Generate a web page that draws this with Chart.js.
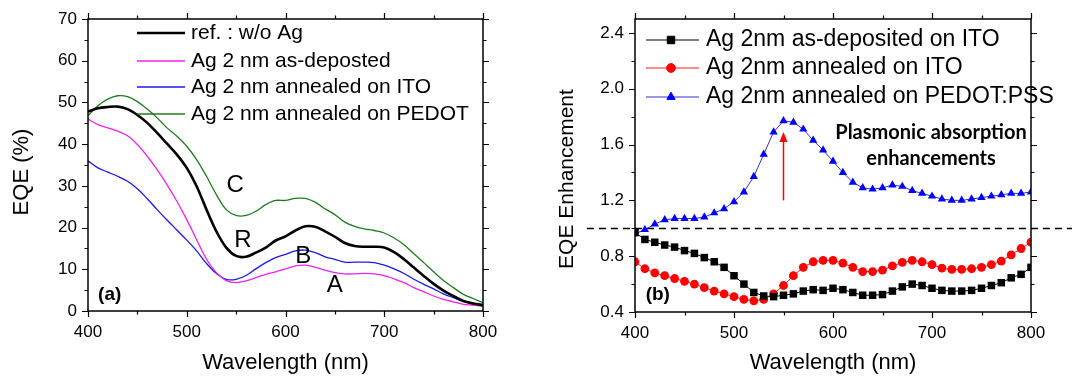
<!DOCTYPE html>
<html>
<head>
<meta charset="utf-8">
<script src="https://cdn.jsdelivr.net/npm/chart.js@4.4.0/dist/chart.umd.min.js"></script>
<style>
  html, body { margin: 0; padding: 0; background: #fff; }
  #wrap { position: relative; width: 1072px; height: 376px; overflow: hidden; }
  #wrap canvas { position: absolute; top: 0; }
</style>
</head>
<body>
<div id="wrap">
  <canvas id="chartA" width="540" height="376" style="left:0"></canvas>
  <canvas id="chartB" width="532" height="376" style="left:540px"></canvas>
</div>
<script>
// wavelength grid (nm)
var wavelength = [400, 410, 420, 430, 440, 450, 460, 470, 480, 490, 500, 510, 520, 530, 540, 550, 560, 570, 580, 590, 600,
  610, 620, 630, 640, 650, 660, 670, 680, 690, 700, 710, 720, 730, 740, 750, 760, 770, 780, 790, 800];

// panel (a): EQE (%)
var eqeRef = [47.8, 48.6, 48.9, 49.0, 48.4, 47.0, 45.1, 42.7, 40.1, 37.5, 34.3, 29.9, 24.3, 19.1, 15.2, 13.2, 13.0, 14.0, 15.2, 16.9, 17.9,
  19.3, 20.3, 20.2, 19.1, 17.8, 16.3, 15.6, 15.4, 15.4, 15.2, 14.1, 12.4, 10.4, 8.4, 6.5, 4.9, 3.6, 2.4, 1.8, 1.4];
var eqeAsDep = [46.0, 44.7, 43.9, 43.1, 42.0, 39.9, 37.1, 33.9, 30.3, 26.3, 21.9, 17.1, 12.4, 9.2, 7.3, 6.8, 7.2, 8.0, 8.8, 9.4, 10.1,
  10.8, 11.0, 10.5, 9.8, 9.2, 8.9, 8.9, 9.0, 8.9, 8.5, 7.7, 6.8, 5.6, 4.6, 3.6, 2.8, 2.2, 1.6, 1.4, 1.1];
var eqeAnnITO = [36.0, 34.3, 33.3, 32.3, 31.1, 29.3, 26.9, 24.3, 21.8, 19.4, 17.0, 14.4, 11.4, 9.0, 7.6, 7.6, 8.5, 10.1, 11.6, 12.8, 13.6,
  14.4, 14.6, 14.0, 13.0, 12.4, 11.7, 11.7, 11.7, 11.6, 11.0, 10.1, 9.0, 7.6, 6.4, 5.3, 4.1, 3.2, 2.4, 1.8, 1.5];
var eqeAnnPEDOT = [46.8, 49.2, 50.8, 51.6, 51.4, 50.2, 48.4, 46.3, 43.9, 41.9, 39.5, 36.3, 32.3, 27.9, 24.3, 22.9, 22.9, 23.9, 25.5, 26.5, 26.5,
  27.0, 27.0, 26.1, 24.5, 23.1, 21.3, 20.3, 19.7, 19.3, 18.7, 17.5, 15.9, 13.7, 11.6, 9.4, 7.3, 5.6, 4.0, 3.0, 2.0];

// panel (b): EQE enhancement
var enhAsDep = [0.97, 0.92, 0.90, 0.88, 0.865, 0.84, 0.82, 0.79, 0.76, 0.72, 0.66, 0.60, 0.54, 0.515, 0.51, 0.52, 0.53, 0.55, 0.56, 0.555, 0.57,
  0.56, 0.54, 0.52, 0.52, 0.525, 0.55, 0.58, 0.60, 0.59, 0.57, 0.555, 0.55, 0.55, 0.555, 0.57, 0.59, 0.61, 0.645, 0.67, 0.72];
var enhAnnITO = [0.76, 0.71, 0.68, 0.66, 0.64, 0.62, 0.60, 0.575, 0.55, 0.53, 0.51, 0.49, 0.48, 0.49, 0.53, 0.59, 0.66, 0.72, 0.76, 0.77, 0.77,
  0.75, 0.72, 0.69, 0.69, 0.70, 0.73, 0.755, 0.77, 0.76, 0.74, 0.715, 0.705, 0.705, 0.71, 0.72, 0.74, 0.765, 0.81, 0.855, 0.90];
var enhAnnPEDOT = [0.96, 0.99, 1.03, 1.06, 1.07, 1.07, 1.07, 1.08, 1.11, 1.14, 1.19, 1.26, 1.37, 1.53, 1.69, 1.77, 1.76, 1.71, 1.63, 1.56, 1.48,
  1.40, 1.33, 1.29, 1.28, 1.29, 1.31, 1.30, 1.27, 1.25, 1.23, 1.21, 1.20, 1.20, 1.21, 1.22, 1.23, 1.24, 1.25, 1.25, 1.26];

var labelsA = ["ref. : w/o Ag", "Ag 2 nm as-deposted", "Ag 2 nm annealed on ITO", "Ag 2 nm annealed on PEDOT"];
var labelsB = ["Ag 2nm as-deposited on ITO", "Ag 2nm annealed on ITO", "Ag 2nm annealed on PEDOT:PSS"];

var FONT = "'Liberation Sans', Arial, sans-serif";

function pts(ys) {
  return ys.map(function (v, i) { return { x: wavelength[i], y: v }; });
}

// box frame with outward major/minor ticks on all four sides
function drawFrame(chart, xMinorStep, yMinorStep) {
  var ctx = chart.ctx, a = chart.chartArea;
  var xs = chart.scales.x, ys = chart.scales.y;
  ctx.save();
  ctx.strokeStyle = "#000";
  ctx.lineWidth = 1.5;
  ctx.strokeRect(a.left, a.top, a.right - a.left, a.bottom - a.top);
  ctx.lineWidth = 1.2;
  ctx.beginPath();
  var v, px, len;
  for (v = xs.min; v <= xs.max + 1e-9; v += xMinorStep) {
    px = Math.round(xs.getPixelForValue(v)) + 0.5;
    len = Math.abs((v - xs.min) / (2 * xMinorStep) - Math.round((v - xs.min) / (2 * xMinorStep))) < 1e-6 ? 6 : 3.5;
    ctx.moveTo(px, a.bottom); ctx.lineTo(px, a.bottom + len);
    ctx.moveTo(px, a.top); ctx.lineTo(px, a.top - len);
  }
  var y0 = ys.options.ticks.stepSize;
  for (v = ys.min; v <= ys.max + 1e-9; v += yMinorStep) {
    px = Math.round(ys.getPixelForValue(v)) + 0.5;
    len = Math.abs((v - ys.min) / y0 - Math.round((v - ys.min) / y0)) < 1e-6 ? 6 : 3.5;
    ctx.moveTo(a.left, px); ctx.lineTo(a.left - len, px);
    ctx.moveTo(a.right, px); ctx.lineTo(a.right + len, px);
  }
  ctx.stroke();
  ctx.restore();
}

function yTitle(chart, text, cx, cy, size) {
  var ctx = chart.ctx;
  ctx.save();
  ctx.translate(cx, cy);
  ctx.rotate(-Math.PI / 2);
  ctx.fillStyle = "#000";
  ctx.font = size + "px " + FONT;
  ctx.textAlign = "center";
  ctx.textBaseline = "middle";
  ctx.fillText(text, 0, 0);
  ctx.restore();
}

function textAt(chart, text, xv, yv, font) {
  var ctx = chart.ctx;
  ctx.save();
  ctx.fillStyle = "#000";
  ctx.font = font;
  ctx.textAlign = "center";
  ctx.textBaseline = "middle";
  ctx.fillText(text, chart.scales.x.getPixelForValue(xv), chart.scales.y.getPixelForValue(yv));
  ctx.restore();
}

var panelA = {
  id: "panelA",
  afterDraw: function (chart) {
    var ctx = chart.ctx;
    drawFrame(chart, 50, 5);
    yTitle(chart, "EQE (%)", 22, 172, 22);
    // legend
    var rows = [33, 61, 87, 114];
    chart.data.datasets.forEach(function (ds, i) {
      ctx.save();
      ctx.strokeStyle = ds.borderColor;
      ctx.lineWidth = ds.borderWidth;
      ctx.beginPath();
      ctx.moveTo(137, rows[i]); ctx.lineTo(185, rows[i]);
      ctx.stroke();
      ctx.fillStyle = "#000";
      ctx.font = "21px " + FONT;
      ctx.textBaseline = "middle";
      ctx.fillText(ds.label, 191, rows[i]);
      ctx.restore();
    });
    var big = "24px " + FONT;
    textAt(chart, "C", 549, 30.2, big);
    textAt(chart, "R", 557, 17.0, big);
    textAt(chart, "B", 618, 13.2, big);
    textAt(chart, "A", 650, 6.2, big);
    textAt(chart, "(a)", 422, 3.8, "bold 19px " + FONT);
  }
};

new Chart(document.getElementById("chartA").getContext("2d"), {
  type: "line",
  data: {
    datasets: [
      { label: labelsA[0], data: pts(eqeRef), borderColor: "#000000", borderWidth: 2.6 },
      { label: labelsA[1], data: pts(eqeAsDep), borderColor: "#ee22ee", borderWidth: 1.3 },
      { label: labelsA[2], data: pts(eqeAnnITO), borderColor: "#1a1ae6", borderWidth: 1.3 },
      { label: labelsA[3], data: pts(eqeAnnPEDOT), borderColor: "#1f7a1f", borderWidth: 1.3 },
    ],
  },
  options: {
    responsive: false,
    animation: false,
    layout: { padding: { left: 0, top: 19, right: 57, bottom: 0 } },
    elements: { point: { radius: 0 }, line: { tension: 0.35, fill: false } },
    plugins: { legend: { display: false }, tooltip: { enabled: false } },
    scales: {
      x: {
        type: "linear", min: 400, max: 800,
        ticks: { stepSize: 100, color: "#000", padding: 5, maxRotation: 0, font: { family: FONT, size: 17 } },
        grid: { display: false, tickLength: 6 },
        border: { display: false },
        title: { display: true, text: "Wavelength (nm)", color: "#000", font: { family: FONT, size: 22 }, padding: { top: 0, bottom: 0 } },
        afterFit: function (s) { s.height = 65; },
      },
      y: {
        min: 0, max: 70,
        ticks: { stepSize: 10, color: "#000", padding: 5, font: { family: FONT, size: 17 } },
        grid: { display: false, tickLength: 6 },
        border: { display: false },
        afterFit: function (s) { s.width = 88; },
      },
    },
  },
  plugins: [panelA],
});

var panelB = {
  id: "panelB",
  beforeDatasetsDraw: function (chart) {
    // reference line at enhancement = 1
    var ctx = chart.ctx, py = Math.round(chart.scales.y.getPixelForValue(1.0)) + 0.5;
    ctx.save();
    ctx.strokeStyle = "#000";
    ctx.lineWidth = 1.3;
    ctx.setLineDash([7, 5]);
    ctx.beginPath();
    ctx.moveTo(47, py); ctx.lineTo(532, py);
    ctx.stroke();
    ctx.restore();
  },
  afterDraw: function (chart) {
    var ctx = chart.ctx, xs = chart.scales.x, ys = chart.scales.y;
    drawFrame(chart, 50, 0.2);
    yTitle(chart, "EQE Enhancement", 27, 179, 21);
    // legend
    var rows = [40, 68, 97];
    chart.data.datasets.forEach(function (ds, i) {
      ctx.save();
      ctx.strokeStyle = ds.borderColor;
      ctx.lineWidth = 1;
      ctx.beginPath();
      ctx.moveTo(106, rows[i]); ctx.lineTo(159, rows[i]);
      ctx.stroke();
      ctx.fillStyle = ds.pointBackgroundColor;
      ctx.strokeStyle = ds.pointBackgroundColor;
      Chart.helpers.drawPoint(ctx, { pointStyle: ds.pointStyle, radius: ds.pointRadius, borderWidth: 1, rotation: 0 }, 131, rows[i]);
      ctx.fillStyle = "#000";
      ctx.font = "23px " + FONT;
      ctx.textBaseline = "middle";
      ctx.fillText(ds.label, 166, rows[i]);
      ctx.restore();
    });
    // arrow
    var ax = xs.getPixelForValue(550), y1 = ys.getPixelForValue(1.2), y2 = ys.getPixelForValue(1.69);
    ctx.save();
    ctx.strokeStyle = "#ff0000";
    ctx.fillStyle = "#ff0000";
    ctx.lineWidth = 1.5;
    ctx.beginPath();
    ctx.moveTo(ax, y1); ctx.lineTo(ax, y2 + 8);
    ctx.stroke();
    ctx.beginPath();
    ctx.moveTo(ax, y2); ctx.lineTo(ax - 4, y2 + 10); ctx.lineTo(ax + 4, y2 + 10);
    ctx.closePath();
    ctx.fill();
    ctx.restore();
    textAt(chart, "Plasmonic absorption", 699, 1.685, "bold 20px Lato, 'Noto Sans', sans-serif");
    textAt(chart, "enhancements", 699, 1.50, "bold 20px Lato, 'Noto Sans', sans-serif");
    textAt(chart, "(b)", 423, 0.52, "bold 19px " + FONT);
  }
};

new Chart(document.getElementById("chartB").getContext("2d"), {
  type: "line",
  data: {
    datasets: [
      { label: labelsB[0], data: pts(enhAsDep), borderColor: "#000000", borderWidth: 1,
        pointStyle: "rect", pointRadius: 5.3, pointBackgroundColor: "#000000", pointBorderColor: "#000000", pointBorderWidth: 0 },
      { label: labelsB[1], data: pts(enhAnnITO), borderColor: "#ff1a1a", borderWidth: 1,
        pointStyle: "circle", pointRadius: 4.4, pointBackgroundColor: "#ff0000", pointBorderColor: "#ff0000", pointBorderWidth: 0 },
      { label: labelsB[2], data: pts(enhAnnPEDOT), borderColor: "#3030d0", borderWidth: 1,
        pointStyle: "triangle", pointRadius: 4.8, pointBackgroundColor: "#0000ff", pointBorderColor: "#0000ff", pointBorderWidth: 0 },
    ],
  },
  options: {
    responsive: false,
    animation: false,
    layout: { padding: { left: 0, top: 19, right: 41, bottom: 0 } },
    elements: { line: { tension: 0, fill: false } },
    plugins: { legend: { display: false }, tooltip: { enabled: false } },
    scales: {
      x: {
        type: "linear", min: 400, max: 800,
        ticks: { stepSize: 100, color: "#000", padding: 5, maxRotation: 0, font: { family: FONT, size: 17 } },
        grid: { display: false, tickLength: 6 },
        border: { display: false },
        title: { display: true, text: "Wavelength (nm)", color: "#000", font: { family: FONT, size: 22 }, padding: { top: 0, bottom: 0 } },
        afterFit: function (s) { s.height = 64; },
      },
      y: {
        min: 0.4, max: 2.5,
        ticks: {
          stepSize: 0.4, includeBounds: false, color: "#000", padding: 5, font: { family: FONT, size: 17 },
          callback: function (v) { return Number(v).toFixed(1); },
        },
        grid: { display: false, tickLength: 6 },
        border: { display: false },
        afterFit: function (s) { s.width = 95; },
      },
    },
  },
  plugins: [panelB],
});
</script>
</body>
</html>
